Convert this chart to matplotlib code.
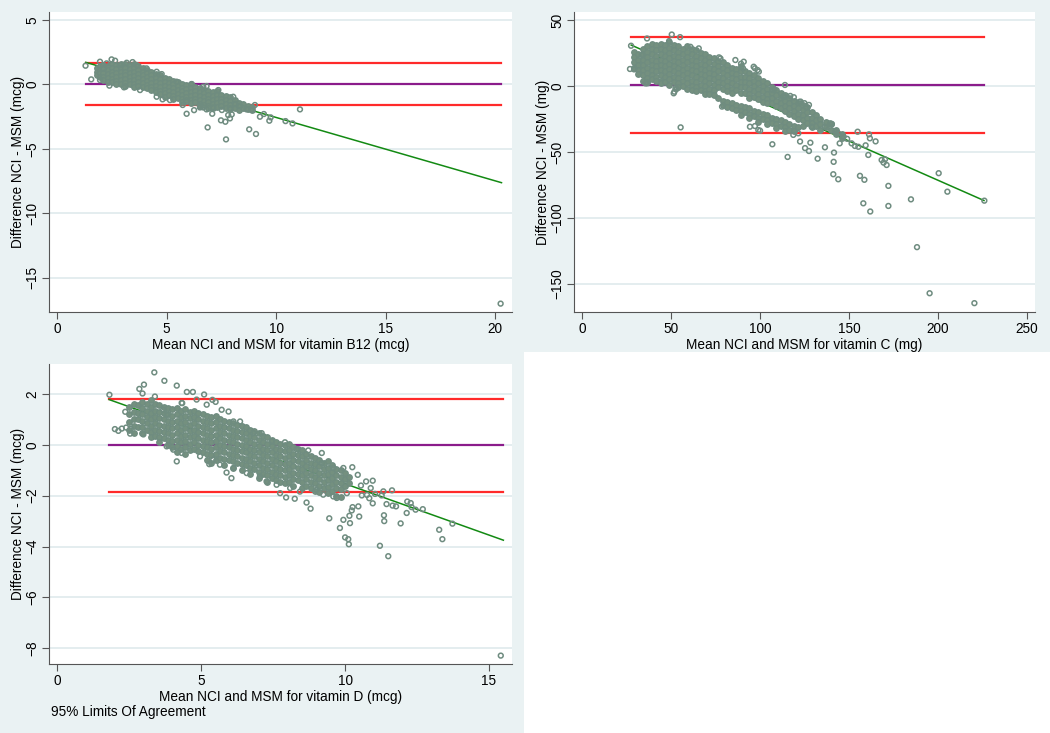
import numpy as np
import matplotlib
matplotlib.use('Agg')
import matplotlib.pyplot as plt
from matplotlib.patches import Rectangle

plt.rcParams['font.family'] = ['Liberation Sans', 'DejaVu Sans']

BG = '#EAF2F3'
GRID = '#E2ECEE'
DOT = '#6F8C80'
DOT_FILL = '#74907F'

# ---- vitamin B12: dense band as (mean, [differences]) columns, then stragglers
b12_cols = [
    (1.8, [1.3, 1.0, 0.75]),
    (1.95, [1.45, 1.15, 0.85, 0.55]),
    (2.1, [1.5, 1.2, 0.9, 0.6, 0.35]),
    (2.3, [1.4, 1.1, 0.8, 0.5, 0.2]),
    (2.5, [1.6, 1.3, 1.0, 0.7, 0.45, 0.15]),
    (2.7, [1.5, 1.2, 0.9, 0.6, 0.3, 0.05]),
    (2.9, [1.55, 1.25, 0.95, 0.65, 0.35, 0.05]),
    (3.1, [1.6, 1.3, 1.0, 0.7, 0.4, 0.1, -0.1]),
    (3.3, [1.5, 1.2, 0.9, 0.6, 0.3, 0.0]),
    (3.5, [1.55, 1.25, 0.95, 0.65, 0.35, 0.05, -0.2]),
    (3.7, [1.4, 1.1, 0.8, 0.5, 0.2, -0.1]),
    (3.9, [1.3, 1.0, 0.7, 0.4, 0.1, -0.2]),
    (4.1, [1.15, 0.85, 0.55, 0.25, -0.05, -0.3]),
    (4.3, [1.0, 0.7, 0.4, 0.1, -0.2, -0.45]),
    (4.5, [0.8, 0.5, 0.2, -0.1, -0.4, -0.6]),
    (4.7, [0.7, 0.4, 0.1, -0.2, -0.5, -0.75]),
    (4.9, [0.5, 0.2, -0.1, -0.4, -0.7, -0.95]),
    (5.1, [0.4, 0.1, -0.2, -0.5, -0.8]),
    (5.3, [0.3, 0.0, -0.3, -0.6, -0.9, -1.1]),
    (5.5, [0.15, -0.15, -0.45, -0.75, -1.05]),
    (5.7, [0.05, -0.25, -0.55, -0.85, -1.15, -1.35]),
    (5.9, [-0.05, -0.35, -0.65, -0.95, -1.25]),
    (6.1, [0.0, -0.3, -0.6, -0.9, -1.2, -1.45]),
    (6.3, [-0.2, -0.5, -0.8, -1.1, -1.4]),
    (6.5, [-0.3, -0.6, -0.9, -1.2, -1.5, -1.7]),
    (6.7, [-0.4, -0.7, -1.0, -1.3, -1.6]),
    (6.9, [-0.5, -0.8, -1.1, -1.4, -1.7, -1.85]),
    (7.1, [-0.6, -0.9, -1.2, -1.5, -1.8]),
    (7.3, [-0.55, -0.85, -1.15, -1.45, -1.75]),
    (7.5, [-0.8, -1.1, -1.4, -1.7]),
    (7.7, [-0.9, -1.2, -1.5, -1.8]),
    (7.9, [-1.0, -1.3, -1.6, -1.9]),
    (8.1, [-1.2, -1.5, -1.8]),
    (8.3, [-1.45, -1.7, -1.95]),
    (8.5, [-1.5, -1.8]),
    (8.7, [-1.65, -1.9]),
    (8.9, [-1.75, -2.0]),
]
b12_extra = [
    (1.29, 1.45), (1.55, 0.39), (1.95, 1.76), (2.48, 1.94), (2.64, 1.84),
    (1.95, 0.34), (2.38, -0.1), (3.05, -0.23), (3.17, 1.68), (3.44, 1.73),
    (4.81, -1.16), (5.73, -1.6), (5.91, -2.28), (6.25, -2.0), (6.87, -3.34),
    (7.08, -2.28), (7.48, -2.79), (7.68, -2.9), (7.71, -4.27), (7.81, -2.38),
    (7.89, -2.64), (7.97, -2.33), (7.52, -1.99), (8.77, -3.49), (9.08, -3.85),
    (9.03, -1.6), (9.26, -2.51), (9.44, -2.3), (9.69, -2.82), (9.75, -2.56),
    (10.43, -2.85), (10.75, -3.03), (11.09, -1.94), (20.26, -17.02),
    (8.65, -1.94), (8.88, -1.99), (8.35, -1.68), (8.12, -1.53), (6.82, -1.94),
    (6.52, -1.79), (6.67, -1.79), (7.36, -0.44), (6.82, -0.13), (6.14, 0.03),
    (2.1, 1.24), (2.25, 1.63), (2.86, 1.5), (3.63, 1.5), (4.08, 1.24),
    (4.54, 0.98), (4.77, 0.8), (5.45, 0.21), (6.67, -0.18), (8.04, -0.96),
    (3.78, -0.44), (4.54, -0.96), (5.15, -1.22), (5.91, -1.35), (6.52, -1.68),
    (7.13, -1.79), (7.89, -1.86),
]
b12_loa = [1.65, -1.62]
b12_bias = 0.02
b12_span = [1.3, 20.3]
b12_fit = [1.71, -7.63]

# ---- vitamin C
vitc_cols = [
    (29, [26, 22, 18, 14]),
    (31.5, [24, 20, 16, 12, 9]),
    (34, [28, 24, 20, 16, 12, 8, 4]),
    (36.5, [30, 26, 22, 18, 14, 10, 6, 3]),
    (39, [32, 28, 24, 20, 16, 12, 8, 5]),
    (41.5, [31, 27, 23, 19, 15, 11, 7, 4]),
    (44, [32, 28, 24, 20, 16, 12, 8, 4, 2]),
    (46.5, [31, 27, 23, 19, 15, 11, 7, 3]),
    (49, [33, 29, 25, 21, 17, 13, 9, 5, 1]),
    (51.5, [31, 27, 23, 19, 15, 11, 7, 3]),
    (54, [30, 26, 22, 18, 14, 10, 6, 2, -1]),
    (56.5, [28, 24, 20, 16, 12, 8, 4, 0]),
    (59, [30, 26, 22, 18, 14, 10, 6, 2, -2]),
    (61.5, [28, 24, 20, 16, 12, 8, 4, 0, -3]),
    (64, [27, 23, 19, 15, 11, 7, 3, -1, -4]),
    (66.5, [25, 21, 17, 13, 9, 5, 1, -3]),
    (69, [24, 20, 16, 12, 8, 4, 0, -4, -6]),
    (71.5, [22, 18, 14, 10, 6, 2, -2, -6]),
    (74, [21, 17, 13, 9, 5, 1, -3, -7]),
    (76.5, [19, 15, 11, 7, 3, -1, -9]),
    (79, [18, 14, 10, 6, 2, -2, -11, -14]),
    (81.5, [16, 12, 8, 4, 0, -4, -12, -16]),
    (84, [14, 10, 6, 2, -2, -5, -13, -17]),
    (86.5, [13, 9, 5, 1, -3, -14, -18]),
    (89, [15, 11, 7, 3, -1, -5, -15, -19, -22]),
    (91.5, [11, 7, 3, -1, -5, -16, -20]),
    (94, [10, 6, 2, -2, -6, -9, -17, -21, -24]),
    (96.5, [8, 4, 0, -4, -8, -19, -23]),
    (99, [6, 2, -2, -6, -10, -20, -24, -27]),
    (101.5, [4, 0, -4, -8, -12, -21, -25]),
    (104, [2, -2, -6, -10, -13, -22, -26, -29]),
    (106.5, [-1, -5, -9, -13, -24, -28]),
    (109, [-3, -7, -11, -15, -25, -29, -32]),
    (111.5, [-5, -9, -13, -17, -26, -30]),
    (114, [-7, -11, -15, -19, -27, -31, -34]),
    (116.5, [-9, -13, -17, -21, -29, -33]),
    (119, [-11, -15, -19, -23, -30, -34]),
    (121.5, [-13, -17, -21, -25, -31]),
    (124, [-14, -18, -22, -26, -30]),
    (126.5, [-16, -20, -24, -28]),
    (129, [-20, -24, -28, -31]),
    (131.5, [-22, -26, -30]),
    (134, [-25, -29, -33]),
    (137, [-27, -31]),
    (140, [-29, -33]),
    (143, [-33, -36]),
    (146, [-36, -39]),
]
vitc_extra = [
    (27.4, 30.5), (26.8, 12.9), (29.1, 12.6), (33.4, 23.5), (35.6, 2.0),
    (36.4, 36.0), (50.3, 39.0), (55.0, 37.0), (48.8, 34.0), (51.8, -4.3),
    (53.0, -2.3), (55.3, -31.3), (76.9, 21.7), (89.3, 16.9), (97.1, 13.4),
    (98.6, 12.1), (96.4, 14.6), (94.3, -30.8), (97.1, -30.3), (99.0, -33.3),
    (100.0, -33.8), (106.9, -44.1), (114.0, 0.8), (115.5, -53.7), (118.7, -37.0),
    (121.5, -35.8), (122.5, -42.0), (125.3, -47.0), (127.5, -49.2), (128.3, -42.9),
    (132.4, -55.0), (136.5, -46.4), (141.2, -66.8), (141.4, -57.4), (141.6, -50.4),
    (144.0, -70.6), (144.8, -43.4), (147.0, -38.3), (154.9, -34.6), (156.2, -68.0),
    (158.1, -88.8), (158.7, -71.0), (159.4, -44.9), (160.9, -52.2), (161.3, -36.6),
    (161.8, -39.6), (162.0, -95.0), (165.0, -41.9), (168.4, -56.0), (169.5, -58.0),
    (170.3, -55.5), (171.2, -59.8), (172.2, -75.6), (172.2, -90.8), (184.9, -85.8),
    (188.3, -122.0), (195.4, -156.9), (200.5, -66.0), (205.4, -80.0), (220.6, -164.4),
    (226.2, -86.8), (149.0, -40.0), (151.5, -43.4), (153.4, -45.4), (155.3, -46.0),
    (144.0, -35.8), (142.3, -34.6), (139.5, -28.2), (136.5, -30.8), (129.0, -30.8),
    (140.4, -28.7), (107.0, -3.0), (108.0, -2.5), (113.0, -8.0), (117.0, -7.5),
    (119.0, -8.5), (122.0, -12.0), (125.0, -13.0), (126.0, -16.0),
    (60.8, 29.7), (65.5, 28.5), (77.7, 20.9), (86.1, 19.7), (90.8, 18.4),
    (90.4, 13.4), (99.3, 10.9), (113.4, -8.0), (122.8, -11.8), (127.5, -14.3),
    (51.4, -5.5), (52.4, -1.7), (36.6, 2.1), (29.1, 13.4), (78.6, -15.6),
]
vitc_loa = [37.0, -35.5]
vitc_bias = 1.0
vitc_span = [27.5, 226.0]
vitc_fit = [31.0, -86.7]

# ---- vitamin D
vitd_cols = [
    (2.5, [1.5, 1.2, 0.9, 0.6]),
    (2.65, [1.6, 1.3, 1.0, 0.75, 0.45]),
    (2.8, [1.55, 1.25, 1.0, 0.7]),
    (2.95, [1.7, 1.45, 1.2, 0.95, 0.7, 0.45]),
    (3.1, [1.6, 1.35, 1.1, 0.85, 0.6]),
    (3.25, [1.75, 1.5, 1.25, 1.0, 0.75, 0.5, 0.3]),
    (3.4, [1.6, 1.35, 1.1, 0.85, 0.6, 0.35]),
    (3.55, [1.55, 1.3, 1.05, 0.8, 0.55, 0.3, 0.1]),
    (3.7, [1.5, 1.25, 1.0, 0.75, 0.5, 0.25]),
    (3.85, [1.45, 1.2, 0.95, 0.7, 0.45, 0.2, 0.0]),
    (4.0, [1.4, 1.15, 0.9, 0.65, 0.4, 0.15, -0.1]),
    (4.15, [1.45, 1.2, 0.95, 0.7, 0.45, 0.2, -0.05, -0.3]),
    (4.3, [1.35, 1.1, 0.85, 0.6, 0.35, 0.1, -0.15]),
    (4.45, [1.4, 1.15, 0.9, 0.65, 0.4, 0.15, -0.1, -0.35]),
    (4.6, [1.3, 1.05, 0.8, 0.55, 0.3, 0.05, -0.2]),
    (4.75, [1.35, 1.1, 0.85, 0.6, 0.35, 0.1, -0.15]),
    (4.9, [1.25, 1.0, 0.75, 0.5, 0.25, 0.0, -0.25]),
    (5.05, [1.2, 0.95, 0.7, 0.45, 0.2, -0.05, -0.3]),
    (5.2, [1.15, 0.9, 0.65, 0.4, 0.15, -0.1, -0.35, -0.6]),
    (5.35, [1.1, 0.85, 0.6, 0.35, 0.1, -0.15, -0.4, -0.7]),
    (5.5, [1.15, 0.9, 0.65, 0.4, 0.15, -0.1, -0.35, -0.6]),
    (5.65, [1.0, 0.75, 0.5, 0.25, 0.0, -0.25, -0.5]),
    (5.8, [0.95, 0.7, 0.45, 0.2, -0.05, -0.3, -0.55, -0.8]),
    (5.95, [0.9, 0.65, 0.4, 0.15, -0.1, -0.35, -0.6]),
    (6.1, [0.85, 0.6, 0.35, 0.1, -0.15, -0.4, -0.65, -0.9]),
    (6.25, [0.8, 0.55, 0.3, 0.05, -0.2, -0.45, -0.7]),
    (6.4, [0.75, 0.5, 0.25, 0.0, -0.25, -0.5, -0.75, -1.0]),
    (6.55, [0.7, 0.45, 0.2, -0.05, -0.3, -0.55, -0.8]),
    (6.7, [0.6, 0.35, 0.1, -0.15, -0.4, -0.65, -0.9, -1.15]),
    (6.85, [0.55, 0.3, 0.05, -0.2, -0.45, -0.7, -0.95]),
    (7.0, [0.45, 0.2, -0.05, -0.3, -0.55, -0.8, -1.05, -1.3]),
    (7.15, [0.35, 0.1, -0.15, -0.4, -0.65, -0.9, -1.15]),
    (7.3, [0.3, 0.05, -0.2, -0.45, -0.7, -0.95, -1.2, -1.45]),
    (7.45, [0.2, -0.05, -0.3, -0.55, -0.8, -1.05, -1.3]),
    (7.6, [0.1, -0.15, -0.4, -0.65, -0.9, -1.15, -1.4]),
    (7.75, [0.05, -0.2, -0.45, -0.7, -0.95, -1.2, -1.45]),
    (7.9, [0.0, -0.25, -0.5, -0.75, -1.0, -1.25, -1.5]),
    (8.05, [0.05, -0.2, -0.45, -0.7, -0.95, -1.2, -1.45]),
    (8.2, [-0.1, -0.35, -0.6, -0.85, -1.1, -1.35, -1.6]),
    (8.35, [-0.15, -0.4, -0.65, -0.9, -1.15, -1.4]),
    (8.5, [-0.2, -0.45, -0.7, -0.95, -1.2, -1.45, -1.7]),
    (8.65, [-0.35, -0.6, -0.85, -1.1, -1.35, -1.6]),
    (8.8, [-0.45, -0.7, -0.95, -1.2, -1.45, -1.7]),
    (8.95, [-0.5, -0.75, -1.0, -1.25, -1.5, -1.8]),
    (9.1, [-0.6, -0.85, -1.1, -1.35, -1.6, -1.85]),
    (9.25, [-0.7, -0.95, -1.2, -1.45, -1.7]),
    (9.4, [-0.65, -0.9, -1.15, -1.4, -1.65, -1.9]),
    (9.55, [-0.8, -1.05, -1.3, -1.55, -1.8]),
    (9.7, [-0.95, -1.2, -1.45, -1.7, -2.0]),
    (9.85, [-1.0, -1.25, -1.5, -1.75, -2.05]),
    (10.0, [-1.1, -1.35, -1.6]),
    (10.15, [-1.25, -1.5]),
]
vitd_extra = [
    (1.81, 1.97), (2.0, 0.62), (2.12, 0.55), (2.24, 0.64), (2.39, 0.68),
    (2.36, 1.3), (2.53, 0.44), (2.55, 0.63), (2.85, 2.2), (3.01, 2.37),
    (2.96, 2.02), (3.37, 2.85), (2.99, 0.41), (3.72, 2.52), (3.39, 1.9),
    (4.15, 2.33), (4.5, 2.08), (4.71, 2.08), (5.1, 1.98), (4.32, 1.65),
    (5.39, 1.77), (5.5, 1.69), (5.95, 1.31), (4.15, -0.65), (5.28, -0.76),
    (6.05, -1.31), (5.88, -1.09), (7.74, -1.9), (7.95, -2.07), (8.25, -2.12),
    (8.66, -2.27), (8.8, -2.51), (9.19, -0.32), (9.45, -2.89), (9.82, -3.27),
    (9.94, -2.95), (10.0, -3.64), (10.11, -3.71), (10.13, -3.91), (10.17, -3.08),
    (10.15, -2.79), (10.23, -2.58), (10.26, -2.45), (10.25, -0.88), (10.44, -1.18),
    (10.46, -2.42), (10.49, -2.82), (10.55, -1.6), (10.73, -1.44), (10.89, -1.7),
    (10.96, -1.41), (10.96, -2.3), (11.21, -3.97), (11.27, -1.99), (11.33, -1.83),
    (11.35, -2.77), (11.36, -3.0), (11.5, -4.38), (11.44, -2.33), (11.63, -1.79),
    (11.65, -2.39), (11.77, -2.42), (11.93, -3.09), (12.14, -2.68), (12.16, -2.23),
    (12.28, -2.29), (12.31, -2.45), (12.45, -2.55), (12.7, -2.53), (13.27, -3.34),
    (13.38, -3.71), (13.73, -3.1), (15.41, -8.29), (10.06, -1.9), (9.59, -2.03),
    (11.04, -1.93), (10.76, -1.97), (10.58, -1.99), (10.84, -2.1),
    (3.68, 1.38), (3.8, 1.18), (4.34, 1.64), (4.84, 1.78), (5.19, 1.58),
    (5.71, 1.38), (6.12, 0.92), (6.35, 0.92), (6.81, 0.46), (7.1, 0.46),
    (7.45, 0.14), (7.91, 0.1), (8.32, -0.17), (8.72, -0.22), (9.19, -0.72),
    (9.59, -0.91), (9.94, -0.91), (3.8, -0.06), (4.03, -0.19), (4.32, -0.32),
    (4.96, -0.45), (5.42, -0.58), (5.65, -0.78), (6.12, -0.91), (6.58, -1.11),
    (7.04, -1.24), (7.27, -1.44), (7.62, -1.57), (8.09, -1.7), (8.43, -1.84),
    (9.01, -1.77), (9.24, -1.96), (9.71, -2.09),
]
vitd_loa = [1.82, -1.84]
vitd_bias = -0.02
vitd_span = [1.8, 15.5]
vitd_fit = [1.78, -3.75]


def unpack_cols(cols):
    xs, ys = [], []
    for cx, cy in cols:
        xs += [cx] * len(cy)
        ys += cy
    return np.array(xs), np.array(ys)


def panel(rect, cols, extra, loa, bias, span, fit, xlim, ylim, xticks, yticks, xlab, ylab):
    ax = fig.add_axes(rect)
    ax.set_facecolor('white')
    cx, cy = unpack_cols(cols)
    ex = np.array([p[0] for p in extra])
    ey = np.array([p[1] for p in extra])
    for t in yticks:
        ax.axhline(t, color=GRID, lw=1.3, zorder=0)
    ax.plot(span, [loa[0], loa[0]], color='#FF2A2A', lw=1.6, zorder=1)
    ax.plot(span, [loa[1], loa[1]], color='#FF2A2A', lw=1.6, zorder=1)
    ax.plot(span, [bias, bias], color='#8B1C8B', lw=1.6, zorder=1)
    ax.plot(span, fit, color='#138A13', lw=1.1, zorder=2)
    # crowded middle: overlapping circles merge into one mass
    ax.scatter(cx, cy, s=16, facecolors=DOT_FILL, edgecolors=DOT, linewidths=0.9, zorder=3)
    ax.scatter(ex, ey, s=12, facecolors='none', edgecolors=DOT, linewidths=1.1, zorder=4)
    ax.set_xlim(xlim)
    ax.set_ylim(ylim)
    ax.set_xticks(xticks)
    ax.set_yticks(yticks)
    for s in ['top', 'right']:
        ax.spines[s].set_visible(False)
    for s in ['left', 'bottom']:
        ax.spines[s].set_color('#555555')
        ax.spines[s].set_linewidth(0.8)
    ax.tick_params(direction='out', length=5, width=0.8, color='#555555', labelsize=9.8, pad=2)
    for lab in ax.get_yticklabels():
        lab.set_rotation(90)
        lab.set_va('center')
    ax.set_xlabel(xlab, fontsize=9.8, labelpad=2)
    ax.set_ylabel(ylab, fontsize=9.8)
    ax.yaxis.set_label_coords(-0.052, 0.5)
    return ax


fig = plt.figure(figsize=(10.5, 7.33), dpi=100)
fig.patch.set_facecolor(BG)
W, H = 1050, 733
fig.patches.append(Rectangle((524 / W, 0), 1 - 524 / W, 1 - 352 / H,
                             transform=fig.transFigure, facecolor='white', edgecolor='none', zorder=0))

panel([49 / W, 1 - 312 / H, 463 / W, 300 / H], b12_cols, b12_extra, b12_loa, b12_bias,
      b12_span, b12_fit, (-0.38, 20.78), (-17.67, 5.62), [0, 5, 10, 15, 20], [5, 0, -5, -10, -15],
      'Mean NCI and MSM for vitamin B12 (mcg)', 'Difference NCI - MSM (mcg)')

panel([574 / W, 1 - 312 / H, 461 / W, 300 / H], vitc_cols, vitc_extra, vitc_loa, vitc_bias,
      vitc_span, vitc_fit, (-4.7, 254.7), (-171.1, 56.05), [0, 50, 100, 150, 200, 250],
      [50, 0, -50, -100, -150],
      'Mean NCI and MSM for vitamin C (mg)', 'Difference NCI - MSM (mg)')

panel([49 / W, 1 - 664 / H, 463 / W, 300 / H], vitd_cols, vitd_extra, vitd_loa, vitd_bias,
      vitd_span, vitd_fit, (-0.29, 15.8), (-8.62, 3.18), [0, 5, 10, 15], [2, 0, -2, -4, -6, -8],
      'Mean NCI and MSM for vitamin D (mcg)', 'Difference NCI - MSM (mcg)')

fig.text(51 / W, 1 - 712 / H, '95% Limits Of Agreement', fontsize=9.8, ha='left', va='center')

fig.savefig('out.png', dpi=100, facecolor=fig.get_facecolor())
